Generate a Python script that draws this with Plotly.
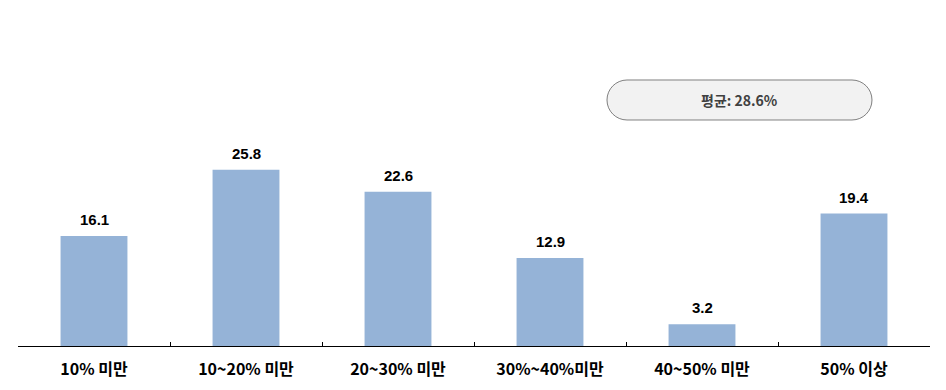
import plotly.graph_objects as go

categories = ["10% 미만", "10~20% 미만", "20~30% 미만", "30%~40%미만", "40~50% 미만", "50% 이상"]
values = [16.1, 25.8, 22.6, 12.9, 3.2, 19.4]
avg_label = "평균: 28.6%"

W, H = 946, 390
L, R, T, B = 18, 16, 10, 44
px_per_unit = 6.83
plot_h = H - T - B
ymax = plot_h / px_per_unit

fig = go.Figure()
fig.add_trace(go.Bar(
    x=categories, y=values, width=0.44,
    marker=dict(color="#95B3D7", line=dict(width=0)),
    hoverinfo="skip",
))

for c, v in zip(categories, values):
    fig.add_annotation(x=c, y=v, text=f"<b>{v:.1f}</b>", showarrow=False,
                       xanchor="center", yanchor="bottom", yshift=6,
                       font=dict(family="Liberation Sans, Arial", size=15, color="#000000"))

# rounded box for average (pixel coordinates -> paper)
pw = W - L - R
def px(x):
    return (x - L) / pw
def py(y):
    return (H - B - y) / plot_h

x0, x1, y0, y1 = 607, 872, 80, 120
r = (y1 - y0) / 2
k = 0.5523 * r
pts = [
    ("M", [(x0 + r, y0)]),
    ("L", [(x1 - r, y0)]),
    ("C", [(x1 - r + k, y0), (x1, y0 + r - k), (x1, y0 + r)]),
    ("C", [(x1, y0 + r + k), (x1 - r + k, y1), (x1 - r, y1)]),
    ("L", [(x0 + r, y1)]),
    ("C", [(x0 + r - k, y1), (x0, y0 + r + k), (x0, y0 + r)]),
    ("C", [(x0, y0 + r - k), (x0 + r - k, y0), (x0 + r, y0)]),
]
path = " ".join(cmd + " " + " ".join(f"{px(a):.5f},{py(b):.5f}" for a, b in p) for cmd, p in pts) + " Z"
fig.add_shape(type="path", path=path, xref="paper", yref="paper",
              fillcolor="#F2F2F2", line=dict(color="#808080", width=1), layer="below")
fig.add_annotation(x=px((x0 + x1) / 2), y=py((y0 + y1) / 2), xref="paper", yref="paper",
                   xanchor="center", yanchor="middle",
                   text=f"<b>{avg_label}</b>", showarrow=False,
                   font=dict(family="Noto Sans CJK KR", size=14, color="#404040"))

fig.update_layout(
    width=W, height=H,
    margin=dict(l=L, r=R, t=T, b=B),
    paper_bgcolor="white", plot_bgcolor="white",
    showlegend=False, bargap=0.56,
    xaxis=dict(
        type="category", showline=True, linecolor="#000000", linewidth=1,
        ticks="inside", ticklen=4, tickcolor="#000000", tickson="boundaries",
        tickfont=dict(family="Noto Sans CJK KR", size=16, color="#000000"),
        ticklabelstandoff=9, showgrid=False,
        tickvals=categories, ticktext=[f"<b>{c}</b>" for c in categories],
    ),
    yaxis=dict(range=[0, ymax], visible=False, showgrid=False, zeroline=False),
)

fig.write_html("out.html")
